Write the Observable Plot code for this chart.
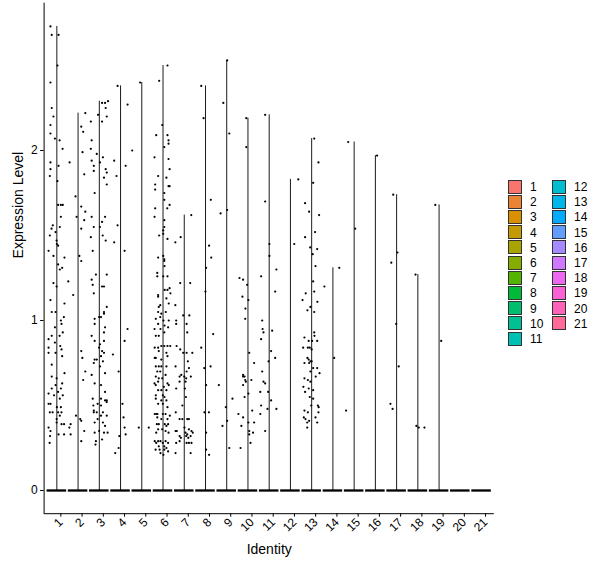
<!DOCTYPE html>
<html><head><meta charset="utf-8">
<script src="https://cdn.jsdelivr.net/npm/d3@7"></script>
<script src="https://cdn.jsdelivr.net/npm/@observablehq/plot@0.6"></script>
<style>
body{margin:0;background:#fff;}
#wrap{position:relative;width:600px;height:568px;font-family:"Liberation Sans",Arial,sans-serif;}
#legend{position:absolute;left:0;top:0;}
.key{position:absolute;width:12px;height:12px;border:1px solid #333;}
.lab{position:absolute;font-size:12px;line-height:14px;color:#000;}
</style></head>
<body><div id="wrap"><div id="chart"></div><div id="legend"></div></div>
<script>
const identities = ["1","2","3","4","5","6","7","8","9","10","11","12","13","14","15","16","17","18","19","20","21"];
const yTicks = [0, 1, 2];
// non-zero expression values per identity: [value, jitter offset]
const c1 = [[2.73,-0.30],[2.68,-0.24],[2.68,0.08],[2.50,0.03],[2.40,-0.30],[2.25,-0.24],[2.20,-0.16],[2.15,-0.30],[2.10,-0.30],[2.07,-0.09],[2.06,0.13],[2.01,0.27],[1.93,-0.30],[1.91,0.08],[1.89,-0.30],[1.85,-0.33],[1.82,0.03],[1.68,0.06],[1.68,0.19],[1.68,0.28],[1.61,0.19],[1.56,-0.19],[1.55,0.14],[1.54,-0.25],[1.52,-0.06],[1.50,-0.33],[1.47,-0.01],[1.45,0.00],[1.44,0.06],[1.41,-0.39],[1.38,-0.16],[1.37,0.36],[1.33,0.06],[1.31,0.25],[1.30,0.14],[1.22,-0.16],[1.20,-0.01],[1.12,-0.30],[1.10,0.36],[1.05,-0.24],[1.05,-0.06],[1.02,0.33],[1.00,0.19],[0.98,0.22],[0.96,-0.09],[0.93,0.28],[0.91,0.13],[0.91,-0.24],[0.89,-0.39],[0.87,-0.09],[0.85,0.16],[0.84,-0.39],[0.83,0.22],[0.81,-0.06],[0.81,-0.39],[0.79,0.25],[0.74,-0.24],[0.69,0.36],[0.67,-0.24],[0.66,-0.01],[0.63,0.25],[0.62,-0.06],[0.60,-0.24],[0.60,0.19],[0.58,0.06],[0.57,-0.39],[0.56,-0.13],[0.56,0.28],[0.54,0.14],[0.51,-0.39],[0.51,-0.30],[0.49,0.00],[0.49,0.19],[0.46,0.06],[0.46,0.22],[0.46,-0.33],[0.46,-0.20],[0.44,0.14],[0.42,-0.01],[0.37,-0.39],[0.40,-0.01],[0.39,0.22],[0.39,0.34],[0.35,-0.30],[0.33,0.08],[0.33,0.34],[0.32,-0.32],[0.28,-0.34]];
const c2 = [[2.22,0.34],[2.14,0.15],[2.11,0.24],[1.99,0.21],[1.93,-0.40],[1.86,0.29],[1.73,-0.12],[1.67,0.15],[1.64,0.34],[1.61,-0.07],[1.59,0.29],[1.54,0.15],[1.38,0.06],[1.35,0.15],[1.23,-0.46],[1.15,-0.23],[0.82,0.15],[0.78,0.20],[0.70,0.34],[0.65,0.24],[0.44,-0.10],[0.42,0.10],[0.41,0.15],[0.39,-0.35],[0.37,-0.41],[0.35,0.29],[0.33,-0.35],[0.29,0.15]];
const c3 = [[2.29,0.41],[2.28,0.13],[2.28,0.27],[2.25,0.30],[2.21,-0.06],[2.20,0.35],[2.17,0.13],[2.17,-0.40],[2.06,-0.36],[2.01,-0.40],[1.98,-0.12],[1.96,0.17],[1.94,-0.36],[1.93,0.03],[1.91,-0.26],[1.89,0.30],[1.88,-0.26],[1.87,0.35],[1.84,0.22],[1.80,0.35],[1.75,-0.22],[1.61,0.27],[1.58,0.13],[1.61,-0.36],[1.55,-0.26],[1.55,0.03],[1.49,-0.40],[1.50,0.16],[1.47,0.30],[1.41,-0.31],[1.27,-0.16],[1.27,0.35],[1.24,-0.36],[1.21,-0.31],[1.20,0.13],[1.20,0.22],[1.16,-0.26],[1.08,0.35],[1.05,0.22],[1.04,0.22],[1.02,-0.01],[1.02,0.08],[1.01,-0.22],[0.98,-0.22],[0.96,0.27],[0.93,0.22],[0.91,-0.36],[0.88,-0.22],[0.88,0.22],[0.86,0.03],[0.84,-0.01],[0.82,0.13],[0.81,0.22],[0.79,0.08],[0.77,-0.22],[0.77,-0.12],[0.75,-0.26],[0.76,0.17],[0.73,0.03],[0.68,-0.36],[0.69,0.27],[0.63,-0.22],[0.62,0.08],[0.58,0.27],[0.54,-0.31],[0.54,0.08],[0.53,0.35],[0.52,0.35],[0.53,0.27],[0.51,-0.08],[0.50,-0.28],[0.50,0.08],[0.47,-0.26],[0.46,-0.26],[0.46,-0.12],[0.46,0.17],[0.44,0.08],[0.44,0.35],[0.42,-0.08],[0.40,-0.22],[0.40,0.17],[0.38,0.27],[0.35,-0.01],[0.34,-0.22],[0.34,0.22],[0.29,-0.16],[0.27,-0.18],[0.30,0.13],[0.34,0.39]];
const c4 = [[2.38,-0.14],[2.27,0.33],[1.94,-0.30],[1.91,0.24],[1.85,-0.19],[1.56,-0.14],[1.46,-0.30],[1.41,0.19],[0.95,0.33],[0.88,0.19],[0.80,-0.36],[0.70,-0.09],[0.51,0.09],[0.43,0.14],[0.37,0.19],[0.32,-0.06],[0.33,0.24],[0.22,-0.25],[0.25,-0.09]];
const c5 = [[2.40,-0.08],[2.00,-0.45],[0.37,-0.14],[0.37,0.33]];
const c6 = [[2.50,0.21],[2.41,-0.18],[2.15,-0.04],[2.09,-0.32],[2.09,0.21],[2.06,0.26],[2.04,0.26],[2.02,0.06],[1.96,-0.40],[1.95,0.26],[1.89,0.31],[1.85,-0.23],[1.84,0.16],[1.80,-0.37],[1.79,0.26],[1.79,0.31],[1.77,-0.37],[1.75,0.06],[1.71,0.06],[1.68,0.31],[1.66,-0.37],[1.66,0.20],[1.61,-0.40],[1.59,0.06],[1.55,0.06],[1.53,0.01],[1.50,-0.18],[1.51,0.01],[1.48,0.21],[1.37,-0.23],[1.38,0.01],[1.36,0.06],[1.35,0.06],[1.32,0.07],[1.28,-0.27],[1.26,-0.27],[1.26,0.01],[1.26,0.21],[1.19,0.31],[1.18,0.08],[1.18,0.21],[1.16,0.35],[1.15,-0.23],[1.14,-0.23],[1.13,0.16],[1.10,0.27],[1.09,-0.13],[1.08,-0.20],[1.05,-0.23],[1.05,0.13],[1.04,-0.08],[1.01,-0.34],[1.02,-0.13],[1.00,0.02],[1.00,0.27],[0.98,-0.23],[0.97,0.07],[0.95,-0.40],[0.95,-0.12],[0.96,0.24],[0.91,-0.34],[0.91,-0.20],[0.93,0.06],[0.84,-0.39],[0.84,-0.23],[0.85,-0.08],[0.85,0.06],[0.85,0.21],[0.85,0.34],[0.82,-0.20],[0.81,0.16],[0.78,-0.39],[0.78,-0.34],[0.77,-0.08],[0.79,0.21],[0.73,-0.34],[0.73,-0.20],[0.73,-0.08],[0.73,0.16],[0.70,-0.27],[0.70,-0.13],[0.68,0.12],[0.67,-0.34],[0.66,-0.20],[0.66,-0.04],[0.63,-0.40],[0.62,-0.34],[0.64,-0.23],[0.63,0.21],[0.62,0.27],[0.61,0.04],[0.59,-0.23],[0.59,-0.08],[0.59,0.16],[0.56,-0.34],[0.56,-0.01],[0.55,0.07],[0.54,-0.34],[0.53,-0.08],[0.53,0.16],[0.51,-0.23],[0.51,-0.01],[0.49,0.21],[0.45,-0.39],[0.45,-0.32],[0.45,-0.26],[0.45,-0.01],[0.45,0.12],[0.44,0.32],[0.43,-0.27],[0.42,-0.08],[0.42,0.21],[0.39,-0.29],[0.39,-0.20],[0.39,0.08],[0.38,0.16],[0.39,0.24],[0.36,-0.23],[0.36,-0.04],[0.34,-0.32],[0.35,0.12],[0.34,0.26],[0.29,-0.39],[0.28,-0.32],[0.29,-0.23],[0.29,-0.12],[0.28,-0.01],[0.29,0.12],[0.28,0.24],[0.26,-0.20],[0.26,0.06],[0.25,0.16],[0.24,-0.35],[0.24,-0.16],[0.24,0.06],[0.23,0.24],[0.21,0.02],[0.22,-0.12]];
const c7 = [[1.62,0.33],[1.49,-0.17],[1.46,-0.42],[1.22,-0.19],[1.22,0.28],[1.09,-0.42],[1.03,0.24],[1.03,-0.05],[1.00,-0.38],[0.98,-0.38],[0.98,0.11],[0.93,0.14],[0.85,-0.36],[0.83,-0.19],[0.81,-0.05],[0.81,0.11],[0.81,0.38],[0.76,0.17],[0.73,-0.41],[0.72,0.22],[0.70,0.11],[0.67,-0.22],[0.68,-0.14],[0.67,0.00],[0.66,0.09],[0.67,0.31],[0.64,-0.22],[0.64,0.06],[0.60,-0.38],[0.60,0.03],[0.55,0.08],[0.50,-0.09],[0.46,-0.40],[0.42,-0.22],[0.42,-0.09],[0.42,0.14],[0.42,0.22],[0.35,-0.41],[0.35,-0.35],[0.37,0.01],[0.34,0.06],[0.36,0.22],[0.33,0.14],[0.35,0.34],[0.34,0.40],[0.32,-0.22],[0.31,-0.16],[0.32,0.09],[0.31,0.19],[0.32,0.30],[0.28,-0.38],[0.29,-0.22],[0.28,0.11],[0.28,0.22],[0.28,0.34],[0.22,-0.41],[0.22,0.30]];
const c8 = [[2.38,-0.20],[2.19,-0.09],[1.71,0.25],[1.44,0.17],[1.37,0.27],[1.31,0.03],[1.17,0.00],[0.92,0.36],[0.84,-0.20],[0.73,0.24],[0.72,-0.06],[0.62,0.03],[0.46,-0.05],[0.46,0.16],[0.34,0.03],[0.24,0.03],[0.21,0.17]];
const c9 = [[2.53,0.02],[2.28,-0.16],[2.10,0.12],[1.63,-0.29],[1.65,0.02],[0.62,-0.37],[0.41,0.02],[0.38,-0.20],[0.25,0.12],[0.49,-0.04],[0.54,0.27]];
const c10 = [[2.19,-0.08],[2.02,-0.08],[1.25,-0.40],[1.24,-0.23],[1.21,-0.04],[1.14,-0.26],[1.12,0.02],[1.07,-0.12],[1.01,-0.13],[0.81,0.06],[0.75,0.29],[0.68,-0.23],[0.67,-0.16],[0.67,-0.23],[0.65,-0.13],[0.65,0.16],[0.64,-0.10],[0.62,-0.23],[0.57,0.02],[0.55,-0.16],[0.47,0.20],[0.45,-0.45],[0.43,-0.23],[0.40,0.02],[0.40,0.29],[0.38,-0.31],[0.35,0.06],[0.34,0.24],[0.33,0.06],[0.28,0.12],[0.25,-0.35]];
const c11 = [[2.21,-0.19],[1.70,-0.19],[1.45,0.01],[1.38,0.01],[1.30,0.34],[1.26,-0.38],[1.17,0.28],[1.00,-0.33],[0.95,-0.31],[0.93,-0.27],[0.94,0.14],[0.89,-0.38],[0.82,0.09],[0.78,0.28],[0.76,-0.03],[0.70,-0.33],[0.64,-0.27],[0.63,-0.19],[0.58,-0.42],[0.58,-0.05],[0.53,0.09],[0.50,-0.38],[0.48,-0.08],[0.48,0.34],[0.45,-0.42],[0.35,-0.19]];
const c12 = [[1.83,0.37],[1.45,0.18]];
const c13 = [[2.07,0.12],[1.93,0.32],[1.81,0.07],[1.69,-0.31],[1.64,-0.12],[1.62,0.35],[1.52,0.16],[1.49,-0.31],[1.43,-0.07],[1.42,0.26],[1.39,0.05],[1.32,0.18],[1.23,0.07],[1.16,-0.28],[1.17,0.12],[1.12,-0.43],[1.11,0.27],[1.08,-0.06],[1.06,-0.20],[1.05,0.12],[0.90,-0.34],[0.93,0.12],[0.91,0.13],[0.88,-0.14],[0.88,0.02],[0.88,0.26],[0.84,-0.40],[0.84,-0.18],[0.84,-0.09],[0.83,0.00],[0.78,-0.20],[0.77,-0.14],[0.76,-0.06],[0.76,0.00],[0.75,-0.12],[0.75,-0.34],[0.72,0.26],[0.69,0.37],[0.72,0.07],[0.70,-0.06],[0.66,-0.34],[0.67,0.19],[0.65,-0.18],[0.64,-0.06],[0.61,-0.39],[0.58,-0.31],[0.60,-0.14],[0.59,0.07],[0.55,-0.09],[0.54,0.07],[0.50,0.29],[0.49,0.33],[0.50,-0.02],[0.47,-0.34],[0.46,-0.18],[0.46,0.32],[0.43,-0.37],[0.42,-0.29],[0.40,-0.21],[0.41,-0.12],[0.43,0.18],[0.40,0.26],[0.37,-0.21]];
const c14 = [[1.31,0.30],[1.20,-0.40],[0.78,0.06]];
const c15 = [[2.05,-0.28],[1.54,0.05],[0.47,-0.38]];
const c16 = [[1.97,0.08]];
const c17 = [[1.74,-0.16],[1.40,0.04],[1.34,-0.25],[0.98,-0.02],[0.73,0.10],[0.51,-0.29],[0.48,-0.19]];
const c18 = [[1.27,-0.11],[0.38,-0.07],[0.37,0.04],[0.37,0.31]];
const c19 = [[1.68,-0.18],[0.88,0.10]];
const c20 = [];
const c21 = [];
const cells = [c1,c2,c3,c4,c5,c6,c7,c8,c9,c10,c11,c12,c13,c14,c15,c16,c17,c18,c19,c20,c21];

// ggplot2 default hue palette (polar CIE-Luv, c=100, l=65)
function hclLuv(h, c, l) {
  const hr = h * Math.PI / 180, U = c * Math.cos(hr), V = c * Math.sin(hr);
  const Xn = 95.047, Yn = 100, Zn = 108.883, den = Xn + 15 * Yn + 3 * Zn;
  const un = 4 * Xn / den, vn = 9 * Yn / den;
  const Y = l > 8 ? Yn * Math.pow((l + 16) / 116, 3) : Yn * l / 903.3;
  const u = U / (13 * l) + un, v = V / (13 * l) + vn;
  const X = 9 * Y * u / (4 * v), Z = (12 - 3 * u - 20 * v) * Y / (4 * v);
  const x = X / 100, y = Y / 100, z = Z / 100;
  const lin = [3.240479*x - 1.537150*y - 0.498535*z, -0.969256*x + 1.875992*y + 0.041556*z, 0.055648*x - 0.204043*y + 1.057311*z];
  const g = lin.map(t => { t = t <= 0.0031308 ? 12.92 * t : 1.055 * Math.pow(t, 1/2.4) - 0.055; return Math.round(255 * Math.max(0, Math.min(1, t))); });
  return "#" + g.map(t => t.toString(16).padStart(2, "0")).join("");
}
const palette = identities.map((_, i) => hclLuv(15 + i * 360 / identities.length, 100, 65));

const points = cells.flatMap((arr, i) => arr.map(([v, j]) => ({id: identities[i], x: i + 1 + j, value: v})));
const violins = identities.map((id, i) => ({id, x: i + 1, top: cells[i].length ? d3.max(cells[i], d => d[0]) : 0}));

const font = '"Liberation Sans", Arial, sans-serif';
const yMin = -0.1365, yMax = 2.8665;
const chart = Plot.plot({
  width: 600, height: 568,
  marginLeft: 43.6, marginRight: 106.2, marginTop: 2.7, marginBottom: 54.8,
  style: {fontFamily: font, fontSize: "12px", background: "white", color: "black"},
  x: {type: "linear", domain: [0.4, identities.length + 0.6]},
  y: {domain: [yMin, yMax]},
  marks: [
    Plot.ruleX(violins.filter(d => d.top > 0), {x: "x", y1: 0, y2: "top", stroke: "black", strokeWidth: 0.9}),
    Plot.ruleY(violins, {y: 0, x1: d => d.x - 0.46, x2: d => d.x + 0.46, stroke: "black", strokeWidth: 2.3}),
    Plot.dot(points, {x: "x", y: "value", r: 1.1, fill: "black", stroke: null}),
    Plot.ruleX([0.4], {stroke: "black", strokeWidth: 1}),
    Plot.ruleY([yMin], {stroke: "black", strokeWidth: 1}),
    Plot.axisY({ticks: yTicks, tickSize: 3.5, tickPadding: 3, label: null, fontSize: 12, tickFormat: d => String(d)}),
    Plot.axisX({ticks: identities.map((_, i) => i + 1), tickFormat: (d, i) => identities[i], tickSize: 3.5, tickPadding: 3, tickRotate: -45, dx: 4, label: null, fontSize: 12}),
    Plot.text(["Identity"], {frameAnchor: "bottom", dy: 40, fontSize: 14, fontFamily: font}),
    Plot.text(["Expression Level"], {frameAnchor: "left", rotate: -90, dx: -26, fontSize: 14, fontFamily: font})
  ]
});
document.getElementById("chart").appendChild(chart);

const legend = document.getElementById("legend");
identities.forEach((id, i) => {
  const col = i < 11 ? 0 : 1, row = i < 11 ? i : i - 11;
  const kx = col === 0 ? 508 : 552, ky = 179.5 + row * 15.2;
  const k = document.createElement("div");
  k.className = "key"; k.style.left = kx + "px"; k.style.top = ky + "px"; k.style.background = palette[i];
  legend.appendChild(k);
  const t = document.createElement("div");
  t.className = "lab"; t.style.left = (kx + 22) + "px"; t.style.top = (ky + 0.5) + "px"; t.textContent = id;
  legend.appendChild(t);
});
</script></body></html>
